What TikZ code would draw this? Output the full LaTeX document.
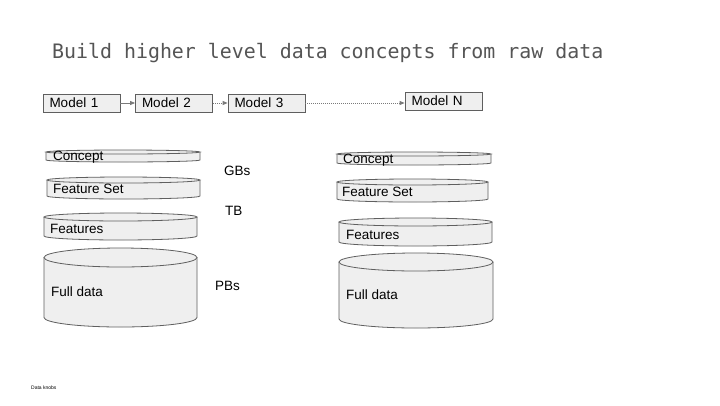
\documentclass[tikz,border=0pt]{standalone}
\usepackage{fontspec}
\setmainfont{Liberation Sans}
\newfontfamily\titlefont{DejaVu Sans Mono}
\usetikzlibrary{arrows.meta}
\definecolor{boxfill}{HTML}{EFEFEF}
\definecolor{edge}{HTML}{5F5F5F}
\definecolor{titlegray}{HTML}{555555}
\definecolor{arrowgray}{HTML}{7A7A7A}
\newcommand\drum[5]{% x1, x2, ytop, ybot, ry  (y values negative)
  \fill[boxfill] ({#1},{#3-#5}) -- ({#1},{#4+#5})
     arc[start angle=180,end angle=360,x radius={(#2-#1)/2},y radius=#5]
     -- ({#2},{#3-#5})
     arc[start angle=0,end angle=180,x radius={(#2-#1)/2},y radius=#5] -- cycle;
  \draw[edge,line width=0.8pt] ({#1},{#3-#5}) -- ({#1},{#4+#5})
     arc[start angle=180,end angle=360,x radius={(#2-#1)/2},y radius=#5]
     -- ({#2},{#3-#5});
  \draw[edge,line width=0.8pt] ({(#1+#2)/2},{#3-#5}) ellipse[x radius={(#2-#1)/2},y radius=#5];
}
\begin{document}
\begin{tikzpicture}[x=1pt,y=1pt,
  model/.style={draw=edge,fill=boxfill,line width=0.8pt,minimum width=77pt,minimum height=18pt,
     inner sep=0pt,text width=64pt,align=left,font=\fontsize{13.5}{15}\selectfont},
  lbl/.style={anchor=west,inner sep=0pt,font=\fontsize{13.5}{15}\selectfont},
  conn/.style={arrowgray,line width=0.8pt,-{Triangle[length=5pt,width=4pt]}},
  dotconn/.style={conn,dash pattern=on 1pt off 1pt}]
\useasboundingbox (0,0) rectangle (720,-405);
\fill[white] (0,0) rectangle (720,-405);
\node[anchor=west,inner sep=0pt,text=titlegray,font=\titlefont\fontsize{19.9}{23}\selectfont] (title) at (52,-53) {Build higher level data concepts from raw data};

\node[model] (m1) at (81.5,-103) {Model 1};
\node[model] (m2) at (174,-103) {Model 2};
\node[model] (m3) at (266.5,-103) {Model 3};
\node[model] (mn) at (443.5,-101) {Model N};
\draw[conn] (m1) -- (m2);
\draw[dotconn] (m2) -- (m3);
\draw[dotconn] (m3.east) -- (mn.west |- m3.east);

% left stack
\drum{46}{200}{-150}{-162}{2}
\drum{47}{200}{-177}{-199}{3}
\drum{44}{197}{-213}{-240}{4}
\drum{44}{197}{-248}{-327}{9.5}
\node[lbl] (lc) at (53,-157) {Concept};
\node[lbl] (lfs) at (53,-189) {Feature Set};
\node[lbl] (lf) at (50,-229) {Features};
\node[lbl] (lfd) at (51,-292) {Full data};

% right stack
\drum{337}{491}{-152}{-165}{2}
\drum{337}{488}{-179}{-202}{3}
\drum{339}{492}{-218}{-246}{4}
\drum{339}{493}{-253}{-328}{9}
\node[lbl] (rc) at (343,-160) {Concept};
\node[lbl] (rfs) at (342,-192) {Feature Set};
\node[lbl] (rf) at (346,-235) {Features};
\node[lbl] (rfd) at (346,-295) {Full data};

\node[lbl] (gb) at (224,-171) {GBs};
\node[lbl] (tb) at (225,-211) {TB};
\node[lbl] (pb) at (215,-286) {PBs};

\node[anchor=west,inner sep=0pt,font=\fontsize{5}{6}\selectfont] (knobs) at (31,-388) {Data knobs};
\end{tikzpicture}
\end{document}
